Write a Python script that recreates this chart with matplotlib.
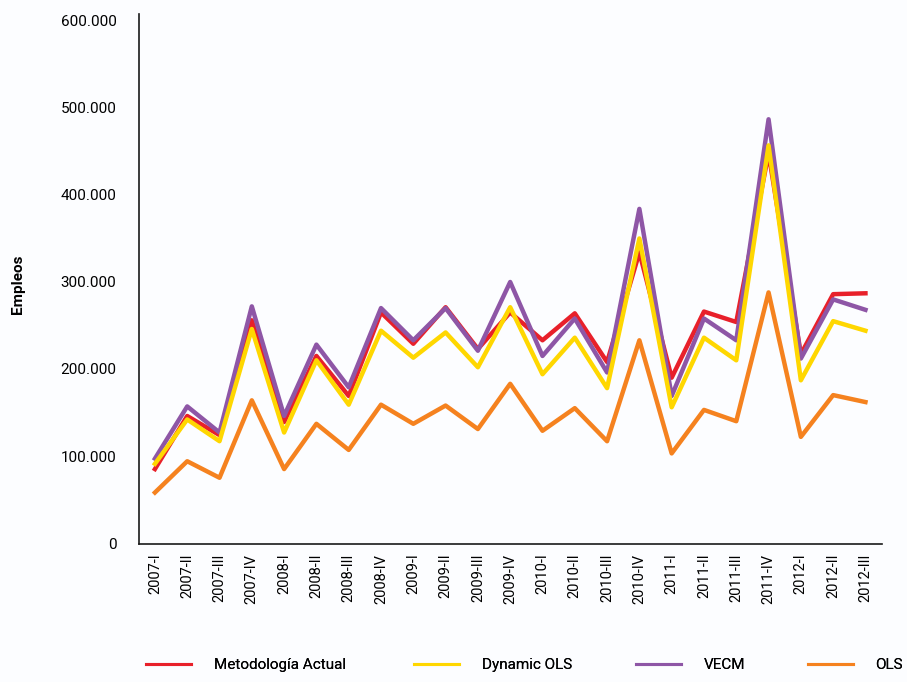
import matplotlib.pyplot as plt
from matplotlib.lines import Line2D
from matplotlib.ticker import FuncFormatter

plt.rcParams['font.family'] = ['Roboto', 'DejaVu Sans']

quarters = ['2007-I', '2007-II', '2007-III', '2007-IV',
            '2008-I', '2008-II', '2008-III', '2008-IV',
            '2009-I', '2009-II', '2009-III', '2009-IV',
            '2010-I', '2010-II', '2010-III', '2010-IV',
            '2011-I', '2011-II', '2011-III', '2011-IV',
            '2012-I', '2012-II', '2012-III']

# employment estimates by method (number of jobs)
metodologia = [85000, 146000, 124000, 256000, 139000, 215000, 169000, 265000,
               229000, 271000, 223000, 265000, 233000, 264000, 208000, 334000,
               190000, 266000, 254000, 448000, 217000, 286000, 287000]
dynamic_ols = [91000, 142000, 117000, 246000, 127000, 210000, 159000, 244000,
               213000, 242000, 202000, 271000, 194000, 236000, 178000, 350000,
               156000, 236000, 210000, 457000, 187000, 255000, 244000]
vecm = [97000, 157000, 127000, 272000, 146000, 228000, 179000, 270000,
        233000, 270000, 221000, 300000, 215000, 258000, 196000, 384000,
        169000, 258000, 233000, 487000, 212000, 280000, 268000]
ols = [58000, 94000, 75000, 164000, 85000, 137000, 107000, 159000,
       137000, 158000, 131000, 183000, 129000, 155000, 117000, 233000,
       103000, 153000, 140000, 288000, 122000, 170000, 162000]

series = [('Metodología Actual', metodologia, '#e8202a', 2),
          ('Dynamic OLS', dynamic_ols, '#ffd700', 4),
          ('VECM', vecm, '#8e56a6', 3),
          ('OLS', ols, '#f5821f', 5)]

bg = '#fcfdff'
fig = plt.figure(figsize=(9.07, 6.82), dpi=100, facecolor=bg)
ax = fig.add_axes([0.153, 0.2025, 0.819, 0.777], facecolor=bg)

x = range(len(quarters))
for name, vals, col, z in series:
    ax.plot(x, vals, color=col, lw=3.2, zorder=z)

ax.set_xlim(-0.5, len(quarters) - 0.5)
ax.set_ylim(-1000, 608000)
ax.set_yticks(range(0, 600001, 100000))
ax.yaxis.set_major_formatter(FuncFormatter(lambda v, p: f'{int(v):,}'.replace(',', '.')))
ax.set_xticks(list(x))
ax.set_xticklabels(quarters, rotation=90, va='top', ha='center')
ax.tick_params(axis='both', length=0)
ax.tick_params(axis='x', pad=7, labelsize=10.5)
ax.tick_params(axis='y', pad=16, labelsize=11)

for s in ['top', 'right']:
    ax.spines[s].set_visible(False)
for s in ['left', 'bottom']:
    ax.spines[s].set_linewidth(1.2)
    ax.spines[s].set_color('#1a1a1a')

ax.set_ylabel('Empleos', fontsize=11, fontweight='bold')
ax.yaxis.set_label_coords(-0.153, 0.49)

# one legend entry per slot along the bottom
slots = [138, 406, 628, 800]
for (name, vals, col, z), px in zip(series, slots):
    h = Line2D([], [], color=col, lw=2.2)
    leg = fig.legend([h], [name], loc='center left',
                     bbox_to_anchor=(px / 907, 1 - 665 / 682),
                     frameon=False, fontsize=11, borderpad=0,
                     handlelength=3.0, handletextpad=1.45)
    fig.add_artist(leg)

fig.savefig('out.png', dpi=100, facecolor=bg)
